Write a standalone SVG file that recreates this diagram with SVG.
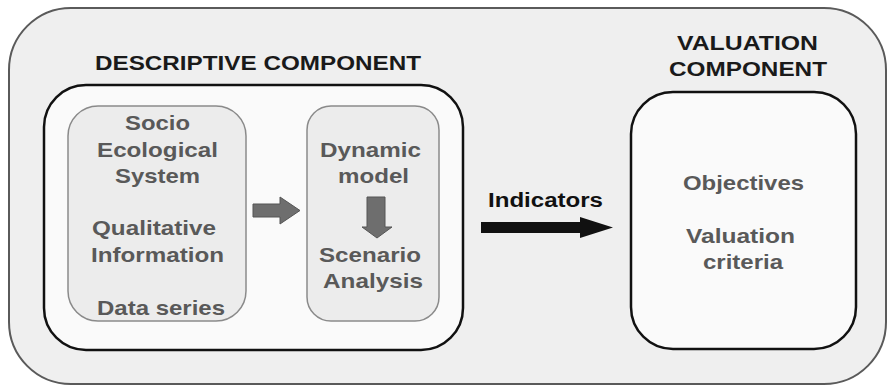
<svg xmlns="http://www.w3.org/2000/svg" width="889" height="387" viewBox="0 0 889 387">
<style>
.t{font-family:"Liberation Sans",Arial,sans-serif;font-weight:bold}
.h{fill:#1a1a1a;font-size:21px}
.g{fill:#595959;font-size:21px}
.comp{fill:#fafafa;stroke:#111;stroke-width:2.5}
.sub{fill:#ececec;stroke:#8a8a8a;stroke-width:1.5}
.ga{fill:#6e6e6e;stroke:#555;stroke-width:1}
</style>
<rect x="0" y="0" width="889" height="387" fill="#fff"/>
<g id="outer">
<rect x="9" y="8" width="877" height="376" rx="62" fill="#efefef" stroke="#5a5a5a" stroke-width="2"/>
</g>
<g id="descriptive">
<text class="t h" x="95" y="70" textLength="326" lengthAdjust="spacingAndGlyphs">DESCRIPTIVE COMPONENT</text>
<rect class="comp" x="44" y="85" width="419" height="265" rx="42"/>
</g>
<g id="socio">
<rect class="sub" x="68" y="106" width="178" height="215" rx="30"/>
<text class="t g" x="125" y="130" textLength="65" lengthAdjust="spacingAndGlyphs">Socio</text>
<text class="t g" x="97" y="157" textLength="121" lengthAdjust="spacingAndGlyphs">Ecological</text>
<text class="t g" x="115" y="183" textLength="85" lengthAdjust="spacingAndGlyphs">System</text>
<text class="t g" x="92" y="235" textLength="124" lengthAdjust="spacingAndGlyphs">Qualitative</text>
<text class="t g" x="91" y="262" textLength="133" lengthAdjust="spacingAndGlyphs">Information</text>
<text class="t g" x="97" y="315" textLength="128" lengthAdjust="spacingAndGlyphs">Data series</text>
</g>
<g id="dynamic">
<rect class="sub" x="307" y="106" width="132" height="215" rx="24"/>
<text class="t g" x="320" y="157" textLength="101" lengthAdjust="spacingAndGlyphs">Dynamic</text>
<text class="t g" x="338" y="183" textLength="71" lengthAdjust="spacingAndGlyphs">model</text>
<text class="t g" x="319" y="262" textLength="102" lengthAdjust="spacingAndGlyphs">Scenario</text>
<text class="t g" x="323" y="288" textLength="100" lengthAdjust="spacingAndGlyphs">Analysis</text>
</g>
<g id="valuation">
<text class="t h" x="677" y="50" textLength="141" lengthAdjust="spacingAndGlyphs">VALUATION</text>
<text class="t h" x="669" y="76" textLength="158" lengthAdjust="spacingAndGlyphs">COMPONENT</text>
<rect class="comp" x="631" y="92" width="225" height="257" rx="42"/>
<text class="t g" x="683" y="190" textLength="121" lengthAdjust="spacingAndGlyphs">Objectives</text>
<text class="t g" x="686" y="243" textLength="109" lengthAdjust="spacingAndGlyphs">Valuation</text>
<text class="t g" x="703" y="269" textLength="80" lengthAdjust="spacingAndGlyphs">criteria</text>
</g>
<g id="connectors">
<polygon class="ga" points="253,204 280,204 280,197 300,210.5 280,224 280,217 253,217"/>
<polygon class="ga" points="367,197 385,197 385,227 392,227 377,238 362,227 367,227"/>
<text class="t" x="488" y="207" textLength="115" lengthAdjust="spacingAndGlyphs" style="fill:#111;font-size:20px">Indicators</text>
<polygon fill="#111" points="481,222 580,222 580,217 613,227.5 580,238 580,233 481,233"/>
</g>
</svg>
